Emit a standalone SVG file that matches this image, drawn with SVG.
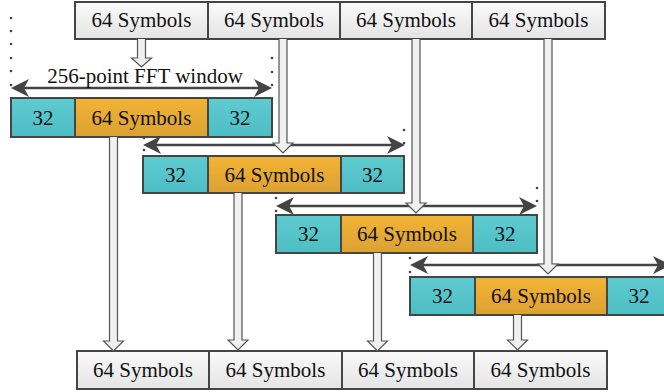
<svg xmlns="http://www.w3.org/2000/svg" width="664" height="392" viewBox="0 0 664 392">
  <defs>
    <linearGradient id="gGray" x1="0" y1="0" x2="0" y2="1">
      <stop offset="0" stop-color="#fafafa"/>
      <stop offset="1" stop-color="#e4e4e4"/>
    </linearGradient>
    <linearGradient id="gTeal" x1="0" y1="0" x2="0" y2="1">
      <stop offset="0" stop-color="#5fcbd0"/>
      <stop offset="1" stop-color="#4cbec4"/>
    </linearGradient>
    <linearGradient id="gOrange" x1="0" y1="0" x2="0" y2="1">
      <stop offset="0" stop-color="#f3b435"/>
      <stop offset="1" stop-color="#dba132"/>
    </linearGradient>
    <marker id="head" markerUnits="userSpaceOnUse" markerWidth="20" markerHeight="20" refX="10" refY="9" orient="auto-start-reverse" overflow="visible">
      <path d="M0,0 L18,9 L0,18 L5,9 Z" fill="#444"/>
    </marker>
    <style>
      .cell { stroke: #454545; stroke-width: 2; }
      .gray { fill: url(#gGray); }
      .teal { fill: url(#gTeal); }
      .orange { fill: url(#gOrange); }
      .txt { font-family: "Liberation Serif", "Times New Roman", serif; font-size: 21px; fill: #111; text-anchor: middle; }
      .span { stroke: #444; stroke-width: 2.5; fill: none; marker-start: url(#head); marker-end: url(#head); }
      .hollow { fill: #f0f0f0; stroke: #555; stroke-width: 1.2; }
      .dot { fill: #444; }
    </style>
  </defs>

  <!-- input stream of symbol blocks -->
  <g id="input-row">
    <rect class="cell gray" x="75" y="2" width="133" height="37"/>
    <rect class="cell gray" x="208" y="2" width="132" height="37"/>
    <rect class="cell gray" x="340" y="2" width="132" height="37"/>
    <rect class="cell gray" x="472" y="2" width="133" height="37"/>
    <text class="txt" x="141.5" y="27">64 Symbols</text>
    <text class="txt" x="274" y="27">64 Symbols</text>
    <text class="txt" x="406" y="27">64 Symbols</text>
    <text class="txt" x="538.5" y="27">64 Symbols</text>
  </g>

  <!-- FFT windows with 32-sample margins -->
  <g id="window-1">
    <rect class="cell teal" x="11" y="98" width="64" height="39"/>
    <rect class="cell orange" x="75" y="98" width="133" height="39"/>
    <rect class="cell teal" x="208" y="98" width="64" height="39"/>
    <text class="txt" x="43" y="125">32</text>
    <text class="txt" x="141.5" y="125">64 Symbols</text>
    <text class="txt" x="240" y="125">32</text>
  </g>
  <g id="window-2">
    <rect class="cell teal" x="143" y="156" width="65" height="37"/>
    <rect class="cell orange" x="208" y="156" width="133" height="37"/>
    <rect class="cell teal" x="341" y="156" width="63" height="37"/>
    <text class="txt" x="175.5" y="182">32</text>
    <text class="txt" x="274.5" y="182">64 Symbols</text>
    <text class="txt" x="372.5" y="182">32</text>
  </g>
  <g id="window-3">
    <rect class="cell teal" x="276" y="215" width="65" height="38"/>
    <rect class="cell orange" x="341" y="215" width="132" height="38"/>
    <rect class="cell teal" x="473" y="215" width="64" height="38"/>
    <text class="txt" x="308.5" y="241">32</text>
    <text class="txt" x="407" y="241">64 Symbols</text>
    <text class="txt" x="505" y="241">32</text>
  </g>
  <g id="window-4">
    <rect class="cell teal" x="410" y="277" width="65" height="38"/>
    <rect class="cell orange" x="475" y="277" width="132" height="38"/>
    <rect class="cell teal" x="607" y="277" width="64" height="38"/>
    <text class="txt" x="442.5" y="303">32</text>
    <text class="txt" x="541" y="303">64 Symbols</text>
    <text class="txt" x="639" y="303">32</text>
  </g>

  <!-- output stream of symbol blocks -->
  <g id="output-row">
    <rect class="cell gray" x="77" y="351" width="132" height="38"/>
    <rect class="cell gray" x="209" y="351" width="133" height="38"/>
    <rect class="cell gray" x="342" y="351" width="132" height="38"/>
    <rect class="cell gray" x="474" y="351" width="133" height="38"/>
    <text class="txt" x="143" y="377">64 Symbols</text>
    <text class="txt" x="275.5" y="377">64 Symbols</text>
    <text class="txt" x="408" y="377">64 Symbols</text>
    <text class="txt" x="540.5" y="377">64 Symbols</text>
  </g>

  <g id="connectors">
    <!-- window boundary guides -->
    <g class="dot">
      <circle cx="11" cy="18" r="1.3"/><circle cx="11" cy="31" r="1.3"/><circle cx="11" cy="44" r="1.3"/>
      <circle cx="11" cy="58" r="1.3"/><circle cx="11" cy="71" r="1.3"/><circle cx="11" cy="85" r="1.3"/>
      <circle cx="272" cy="58" r="1.3"/><circle cx="272" cy="72" r="1.3"/><circle cx="272" cy="85" r="1.3"/>
      <circle cx="144" cy="138" r="1.3"/><circle cx="144" cy="150" r="1.3"/>
      <circle cx="404" cy="130" r="1.3"/><circle cx="404" cy="143" r="1.3"/>
      <circle cx="276" cy="198" r="1.3"/><circle cx="276" cy="211" r="1.3"/>
      <circle cx="537" cy="188" r="1.3"/><circle cx="537" cy="201" r="1.3"/>
      <circle cx="410" cy="258" r="1.3"/><circle cx="410" cy="272" r="1.3"/>
    </g>

    <!-- window spans -->
    <line class="span" x1="19" y1="88" x2="264" y2="88"/>
    <line class="span" x1="151" y1="145" x2="397" y2="145"/>
    <line class="span" x1="284" y1="206" x2="529" y2="206"/>
    <line class="span" x1="418" y1="265" x2="663" y2="265"/>
    <text class="txt" x="145" y="83">256-point FFT window</text>

    <!-- input blocks into windows -->
    <path class="hollow" d="M137.5,39 V58 H131.5 L141.5,67 L151.5,58 H145.5 V39"/>
    <path class="hollow" d="M279,39 V143 H273 L283,153 L293,143 H287 V39"/>
    <path class="hollow" d="M412,39 V203 H406 L416,213 L426,203 H420 V39"/>
    <path class="hollow" d="M544,39 V264 H538 L548,274 L558,264 H552 V39"/>

    <!-- window cores into output -->
    <path class="hollow" d="M109.5,137 V341 H103.5 L113.5,351 L123.5,341 H117.5 V137"/>
    <path class="hollow" d="M234,193 V340 H228 L238,350 L248,340 H242 V193"/>
    <path class="hollow" d="M373.5,253 V341 H367.5 L377.5,351 L387.5,341 H381.5 V253"/>
    <path class="hollow" d="M513.5,315 V340 H507.5 L517.5,350 L527.5,340 H521.5 V315"/>
  </g>
</svg>
